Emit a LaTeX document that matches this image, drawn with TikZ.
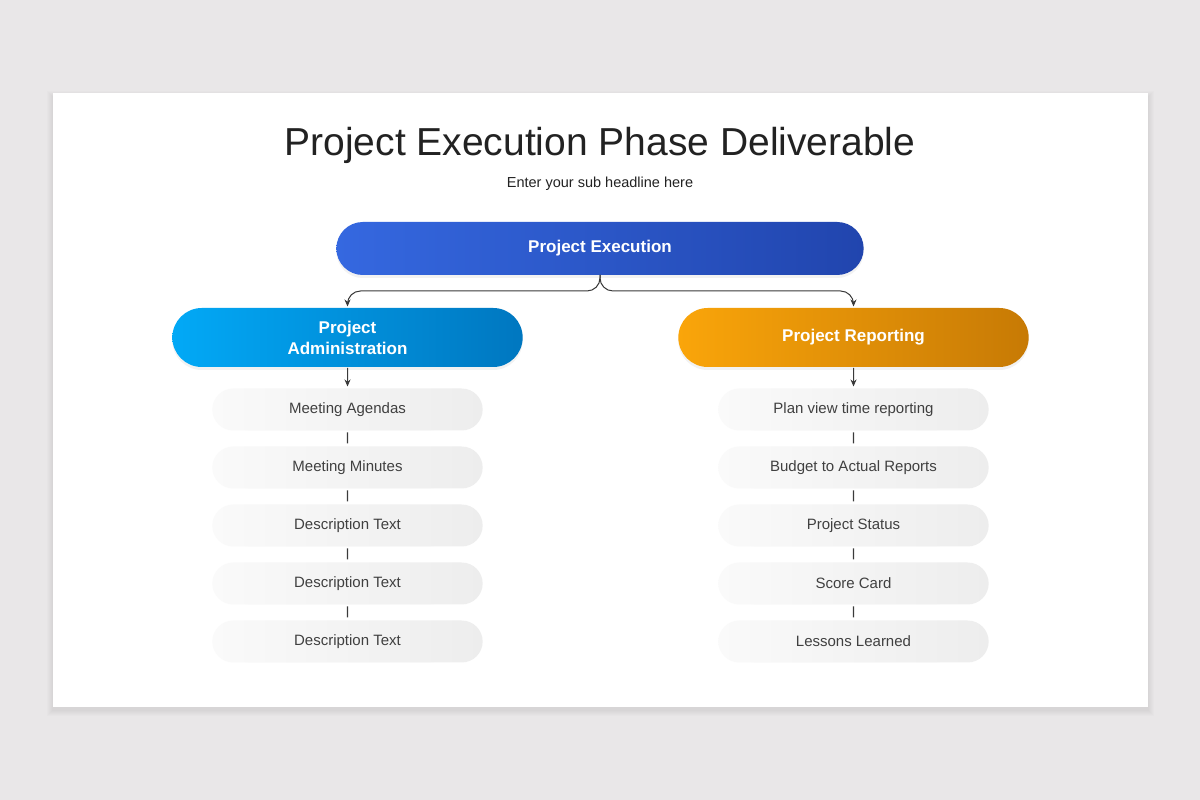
\documentclass[tikz,border=0pt]{standalone}
\usepackage{fontspec}
\setmainfont{Liberation Sans}
\usepackage{xcolor}
\usetikzlibrary{positioning,arrows.meta,shapes.misc,shadows}
\definecolor{bgGray}{HTML}{E9E7E8}
\definecolor{titleGray}{HTML}{222222}
\definecolor{textGray}{HTML}{404040}
\definecolor{lineGray}{HTML}{3A3A3A}
\definecolor{execLeft}{HTML}{3568E0}
\definecolor{execRight}{HTML}{2145AE}
\definecolor{adminLeft}{HTML}{02A9F6}
\definecolor{adminRight}{HTML}{0077C0}
\definecolor{reportLeft}{HTML}{FAA50A}
\definecolor{reportRight}{HTML}{C77A05}
\definecolor{itemLeft}{HTML}{FAFAFA}
\definecolor{itemRight}{HTML}{EDEDED}
\tikzstyle{headBox} = [rounded rectangle, minimum width=534pt, minimum height=53pt, outer sep=0pt,
	left color=execLeft, right color=execRight, text=white,
	font=\fontsize{17}{20}\selectfont\bfseries,
	drop shadow={shadow xshift=0pt, shadow yshift=-3pt, opacity=.10}]
\tikzstyle{branchBox} = [rounded rectangle, minimum width=357pt, minimum height=59pt, outer sep=0pt,
	text=white, align=center, font=\fontsize{17}{21}\selectfont\bfseries,
	drop shadow={shadow xshift=0pt, shadow yshift=-3pt, opacity=.10}]
\tikzstyle{itemBox} = [rounded rectangle, minimum width=277pt, minimum height=42pt, outer sep=0pt,
	left color=itemLeft, right color=itemRight, text=textGray,
	font=\fontsize{15}{18}\selectfont,
	drop shadow={shadow xshift=-10pt, shadow yshift=-5pt, shadow scale=.8, opacity=.07}]
\tikzstyle{arrowLine} = [draw=lineGray, line width=1pt, -{Stealth[length=7pt,width=6pt]}]
\tikzstyle{linkLine} = [draw=lineGray, line width=1.2pt, shorten <=2pt, shorten >=3pt]

\begin{document}
\begin{tikzpicture}[x=1pt,y=1pt,node distance=16pt]
		% background and card
		\fill[bgGray] (0,0) rectangle (1200,800);
		\foreach \s in {1,...,6}
			\fill[black, opacity=.01] (53-\s,93-\s-3) rectangle (1148+\s,707+\s-4);	% weicher Schatten
		\fill[white] (53,93) rectangle (1148,707);
		
		% nodes
		\node[anchor=base, text=titleGray, font=\fontsize{39}{44}\selectfont] (title) at (600,644) {Project Execution Phase Deliverable};	% Titel
		\node[anchor=base, text=titleGray, font=\fontsize{14.5}{17}\selectfont] (subtitle) at (600,612) {Enter your sub headline here};
		\node[headBox] (exec) at (600,551.5) {Project Execution};					% oberer Knoten
		\node[branchBox, left color=adminLeft, right color=adminRight] (admin) at (347.5,462.5) {Project\\Administration};
		\node[branchBox, left color=reportLeft, right color=reportRight] (report) at (853.5,462.5) {Project Reporting};
		\coordinate (brace-left) at (400,509);						% Klammer links
		\coordinate (brace-right) at (800,509);						% Klammer rechts
		
		% left column
		\node[itemBox, below=21.5pt of admin] (agenda) {Meeting Agendas};
		\node[itemBox, below=of agenda] (minutes) {Meeting Minutes};
		\node[itemBox, below=of minutes] (desc-a) {Description Text};
		\node[itemBox, below=of desc-a] (desc-b) {Description Text};
		\node[itemBox, below=of desc-b] (desc-c) {Description Text};
		
		% right column
		\node[itemBox, below=21.5pt of report] (plan) {Plan view time reporting};
		\node[itemBox, below=of plan] (budget) {Budget to Actual Reports};
		\node[itemBox, below=of budget] (status) {Project Status};
		\node[itemBox, below=of status] (score) {Score Card};
		\node[itemBox, below=of score] (lessons) {Lessons Learned};
		
		% arrows
		\draw[arrowLine, rounded corners=13pt, shorten >=1.5pt] (exec.south) |- (brace-left) -| (admin.north);
		\draw[arrowLine, rounded corners=13pt, shorten >=1.5pt] (exec.south) |- (brace-right) -| (report.north);
		\draw[arrowLine, shorten <=1pt, shorten >=2pt] (admin) to (agenda);
		\draw[arrowLine, shorten <=1pt, shorten >=2pt] (report) to (plan);
		
		% links between items
		\draw[linkLine] (agenda) to (minutes);
		\draw[linkLine] (minutes) to (desc-a);
		\draw[linkLine] (desc-a) to (desc-b);
		\draw[linkLine] (desc-b) to (desc-c);
		\draw[linkLine] (plan) to (budget);
		\draw[linkLine] (budget) to (status);
		\draw[linkLine] (status) to (score);
		\draw[linkLine] (score) to (lessons);
		\end{tikzpicture}
\end{document}
